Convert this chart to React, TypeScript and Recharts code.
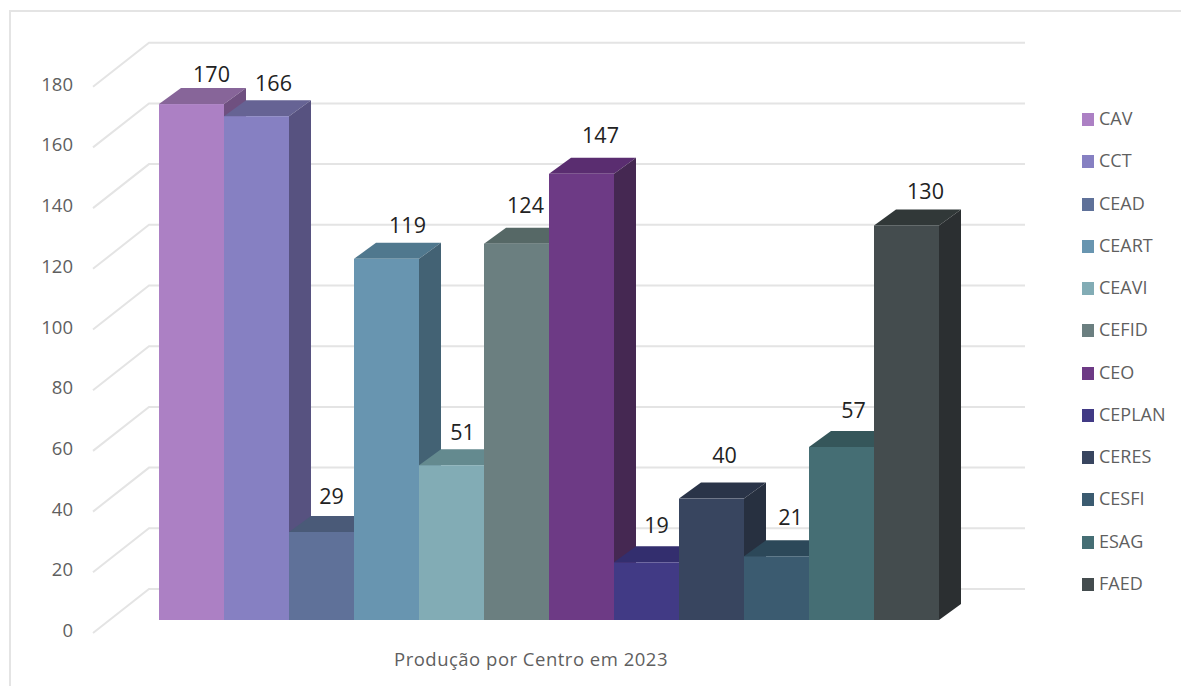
import { BarChart, Bar, XAxis, YAxis, CartesianGrid, Legend } from 'recharts';

const centros = ['CAV', 'CCT', 'CEAD', 'CEART', 'CEAVI', 'CEFID', 'CEO', 'CEPLAN', 'CERES', 'CESFI', 'ESAG', 'FAED'];
const producao = [170, 166, 29, 119, 51, 124, 147, 19, 40, 21, 57, 130];
const yTicks = [0, 20, 40, 60, 80, 100, 120, 140, 160, 180];
const categoria = 'Produção por Centro em 2023';

const frontColors = ['#ac80c4', '#8680c2', '#5f7199', '#6895b0', '#82acb5', '#6b7f80', '#6d3a85', '#413a85', '#38455f', '#3b5b70', '#456e74', '#444c4e'];
const topColors = ['#876599', '#666394', '#4a5a78', '#50788e', '#648a8f', '#566866', '#5a2d70', '#332e6e', '#2a3448', '#2c4859', '#35565a', '#313838'];
const sideColors = ['#6f5080', '#575280', '#3e4b66', '#436274', '#566f74', '#485756', '#452852', '#2a2660', '#273040', '#263c4b', '#2d4a4e', '#2b2f31'];

// excel placed each value label by hand-ish, so the nudge differs per bar
const labelDx = [20, 17, 10, 21, 11, 9, 19, 10, 13, 14, 12, 19];
const labelDy = [-31, -34, -36, -34, -34, -39, -39, -38, -44, -40, -38, -35];

const row: Record<string, string | number> = { name: categoria };
centros.forEach((c, i) => {
  row[c] = producao[i];
});
const chartData = [row];

// bar depth, same look as the excel 3D column
const DX = 22;
const DY = 16;

function Bar3D(props: any) {
  const { x, y, width, height, top, side, fill } = props;
  const r = x + width;
  const b = y + height;
  return (
    <g>
      <polygon points={`${x},${y} ${x + DX},${y - DY} ${r + DX},${y - DY} ${r},${y}`} fill={top} />
      <polygon points={`${r},${y} ${r + DX},${y - DY} ${r + DX},${b - DY} ${r},${b}`} fill={side} />
      <rect x={x} y={y} width={width} height={height} fill={fill} />
    </g>
  );
}

function GridLine3D(props: any) {
  const { y1, x1, x2 } = props;
  const back = y1 - 31;
  return (
    <polyline
      points={`${x1 - 66},${y1 + 13} ${x1 - 10},${back} ${x2 + 88},${back}`}
      fill="none"
      stroke="#e4e4e4"
      strokeWidth={2}
    />
  );
}

function BarValue(props: any) {
  const { x, y, width, value, idx } = props;
  return (
    <text
      x={x + width / 2 + labelDx[idx]}
      y={y + labelDy[idx]}
      textAnchor="middle"
      dominantBaseline="central"
      fontSize={21.5}
      fill="#222222"
      fontFamily="'Open Sans', sans-serif"
    >
      {value}
    </text>
  );
}

function LegendList({ payload }: any) {
  return (
    <div>
      {(payload || []).map((item: any) => (
        <div key={item.value} style={{ height: 42.25, display: 'flex', alignItems: 'center', fontSize: 18, color: '#5f5f5f', fontFamily: "'Open Sans', sans-serif" }}>
          <span style={{ width: 12, height: 13, background: item.color, marginRight: 5, marginTop: 3 }} />
          {item.value}
        </div>
      ))}
    </div>
  );
}

export default function App() {
  return (
    <div style={{ position: 'absolute', left: 0, top: 0, width: 1181, height: 686, overflow: 'hidden', background: '#fff' }}>
      <div style={{ position: 'absolute', left: 9, top: 10, right: -4, bottom: -4, borderTop: '2px solid #e4e4e4', borderLeft: '2px solid #e4e4e4' }} />
      <BarChart
        width={1181}
        height={686}
        data={chartData}
        barGap={0}
        barCategoryGap={0}
        margin={{ top: 73.7, right: 244, bottom: 0, left: 0 }}
        style={{ position: 'absolute', left: 0, top: 0 }}
      >
        <CartesianGrid vertical={false} horizontal={(p: any) => <GridLine3D key={p.index} {...p} />} />
        <XAxis
          dataKey="name"
          height={66}
          axisLine={false}
          tickLine={false}
          tickMargin={27}
          tick={{ fill: '#5f5f5f', fontSize: 18.5, letterSpacing: 0.5, dx: -17, fontFamily: "'Open Sans', sans-serif" }}
        />
        <YAxis
          width={159}
          domain={[0, 180]}
          ticks={yTicks}
          interval={0}
          axisLine={false}
          tickLine={false}
          tickSize={0}
          tickMargin={86}
          tick={{ fill: '#5f5f5f', fontSize: 18.5, dy: 10.5, fontFamily: "'Open Sans', sans-serif" }}
        />
        <Legend
          layout="vertical"
          align="center"
          verticalAlign="middle"
          content={<LegendList />}
          wrapperStyle={{ left: 1082, top: 97, width: 99 }}
        />
        {centros.map((c, i) => (
          <Bar
            key={c}
            dataKey={c}
            fill={frontColors[i]}
            isAnimationActive={false}
            shape={(p: any) => <Bar3D {...p} top={topColors[i]} side={sideColors[i]} />}
            label={(p: any) => <BarValue {...p} idx={i} />}
          />
        ))}
      </BarChart>
    </div>
  );
}
